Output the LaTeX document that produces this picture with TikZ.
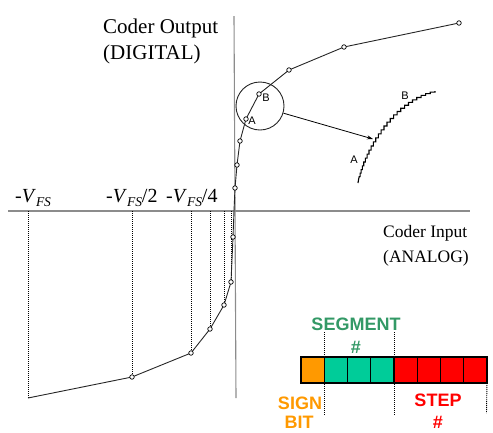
\documentclass[tikz,border=0pt]{standalone}
\usepackage{fontspec}
\setmainfont{Liberation Serif}
\setsansfont{Liberation Sans}
\usetikzlibrary{arrows.meta}
\definecolor{signc}{RGB}{255,153,0}
\definecolor{segc}{RGB}{0,204,153}
\definecolor{segtxt}{RGB}{51,153,102}
\definecolor{stepc}{RGB}{255,0,0}
\tikzset{
  axisline/.style={draw=black!45, line width=1.1pt},
  curveline/.style={draw=black!85, line width=0.9pt},
  dotline/.style={draw=black, line width=0.9pt, dash pattern=on 1pt off 1pt},
  pt/.style={circle, draw=black, fill=white, line width=0.7pt, inner sep=0pt, minimum size=4.5pt},
  cell/.style={draw=black, line width=1.3pt, minimum width=23.25pt, minimum height=26pt, inner sep=0pt, outer sep=0pt},
  bigtxt/.style={font=\fontsize{21}{25}\selectfont, inner sep=0pt},
  vtxt/.style={font=\fontsize{20}{24}\selectfont, inner sep=0pt},
  lbl/.style={font=\sffamily\fontsize{11}{13}\selectfont, inner sep=0pt},
  bittxt/.style={font=\sffamily\bfseries\fontsize{18}{21}\selectfont, inner sep=0pt, align=center},
}
\newcommand{\vfs}{-\textit{V}\raisebox{-4pt}{\fontsize{13.5}{14}\selectfont\textit{FS}}}
\begin{document}
\begin{tikzpicture}[x=1pt,y=-1pt]
\useasboundingbox (0,0) rectangle (493,432);
% axes
\coordinate (yt) at (234,16);
\coordinate (yb) at (236,398);
\coordinate (xl) at (8,211);
\coordinate (xr) at (470,211);
\draw[axisline] (yt) -- (yb);
\draw[axisline] (xl) -- (xr);
% curve points
\coordinate (u8) at (459,23);
\coordinate (u7) at (344,47);
\coordinate (u6) at (289,70);
\coordinate (u5) at (259,94);
\coordinate (u4) at (246,119);
\coordinate (u3) at (240,141);
\coordinate (u2) at (237,165);
\coordinate (u1) at (235,188);
\coordinate (o) at (234,211);
\coordinate (l1) at (233,237);
\coordinate (l2) at (231,282);
\coordinate (l3) at (224,305);
\coordinate (l4) at (210,329);
\coordinate (l5) at (191,353);
\coordinate (l6) at (132,377);
\coordinate (l7) at (28,398);
% dotted verticals
\foreach \p in {l2,l3,l4,l5,l6,l7}
  \draw[dotline] (\p |- xl) -- (\p);
\draw[curveline] (u8) -- (u7) -- (u6) -- (u5) -- (u4) -- (u3) -- (u2) -- (u1) -- (o) -- (l1) -- (l2) -- (l3) -- (l4) -- (l5) -- (l6) -- (l7);
\foreach \p in {u8,u7,u6,u5,u4,u3,u2,u1,l1,l2,l3,l4,l5,l6}
  \node[pt] at (\p) {};
% labels
\node[bigtxt, anchor=base west] (co) at (103,33) {Coder Output};
\node[bigtxt, anchor=base west] (cd) at (103,59) {(DIGITAL)};
\node[bigtxt, font=\fontsize{17.5}{21}\selectfont, anchor=base west] (ci) at (383,237) {Coder Input};
\node[bigtxt, font=\fontsize{17.5}{21}\selectfont, anchor=base west] (ca) at (383,262) {(ANALOG)};
\node[vtxt, anchor=base west] (v1) at (15,202) {\vfs};
\node[vtxt, anchor=base west] (v2) at (106,202) {\vfs/2};
\node[vtxt, anchor=base west] (v4) at (166,202) {\vfs/4};
% magnifier
\node[circle, draw=black!85, line width=0.9pt, minimum size=48pt, inner sep=0pt] (mag) at (260,106) {};
\node[lbl] (bb) at (266,98) {B};
\node[lbl] (aa) at (252,121) {A};
\coordinate (tip) at (373,139);
\draw[line width=0.8pt, -{Stealth[length=6pt,width=4pt]}] (mag.-17) -- (tip);
% staircase
\foreach \i in {0,...,28}{
  \pgfmathsetmacro{\t}{\i/28}
  \pgfmathsetmacro{\xx}{(1-\t)^3*358+3*\t*(1-\t)^2*362+3*\t^2*(1-\t)*390+\t^3*435}
  \pgfmathsetmacro{\yy}{(1-\t)^3*183+3*\t*(1-\t)^2*155+3*\t^2*(1-\t)*100+\t^3*91}
  \coordinate (s\i) at (\xx,\yy);
}
\draw[line width=1.1pt, line join=miter] (s0) -- (s1) -- (s2) \foreach \i in {3,...,28}{ -| (s\i) };
\node[lbl] (sa) at (354,160) {A};
\node[lbl] (sb) at (405,96) {B};
% bit bar
\node[cell, fill=signc] (c0) at (312.6,370) {};
\node[cell, fill=segc, anchor=west] (c1) at (c0.east) {};
\node[cell, fill=segc, anchor=west] (c2) at (c1.east) {};
\node[cell, fill=segc, anchor=west] (c3) at (c2.east) {};
\node[cell, fill=stepc, anchor=west] (c4) at (c3.east) {};
\node[cell, fill=stepc, anchor=west] (c5) at (c4.east) {};
\node[cell, fill=stepc, anchor=west] (c6) at (c5.east) {};
\node[cell, fill=stepc, anchor=west] (c7) at (c6.east) {};
\coordinate (d1t) at (324.2,332);
\coordinate (d1b) at (324.2,415);
\coordinate (d2t) at (394,332);
\coordinate (d2b) at (394,415);
\coordinate (d3b) at (486.5,413);
\draw[dotline] (d1t) -- (d1b);
\draw[dotline] (d2t) -- (d2b);
\draw[dotline] (c7.south east) -- (d3b);
\node[bittxt, text=segtxt] (seg) at (356,324) {SEGMENT};
\node[bittxt, text=segtxt] (segh) at (356,347) {\#};
\node[bittxt, text=signc] (sign) at (300,403) {SIGN};
\node[bittxt, text=signc] (bit) at (299,422) {BIT};
\node[bittxt, text=stepc] (step) at (438,400) {STEP};
\node[bittxt, text=stepc] (steph) at (438,422) {\#};
\end{tikzpicture}
\end{document}
